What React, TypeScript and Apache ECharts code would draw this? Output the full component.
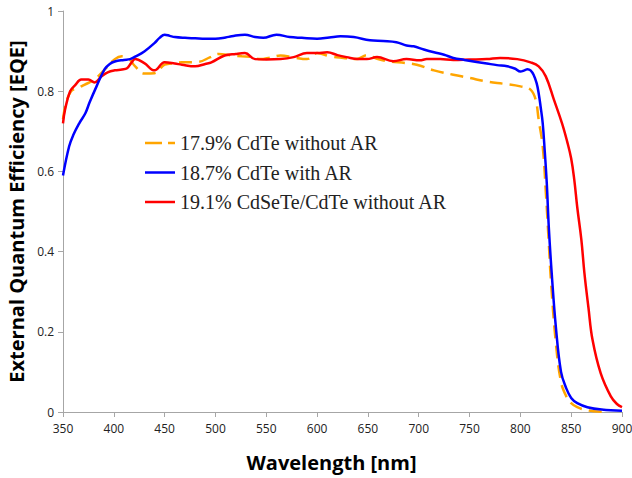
import React, { useEffect, useRef } from "react";
import * as echarts from "echarts";

const seriesNames = [
  "17.9% CdTe without AR",
  "18.7% CdTe with AR",
  "19.1% CdSeTe/CdTe without AR",
];

const xTicks = [350, 400, 450, 500, 550, 600, 650, 700, 750, 800, 850, 900];

const noArX = [350, 353, 358, 365, 371, 381, 391, 401, 408, 414, 421, 430, 440, 450, 460, 467, 483, 495, 503, 516, 526, 535, 544, 554, 564, 577, 590, 600, 613, 626, 639, 649, 659, 669, 688, 698, 715, 734, 750, 767, 785, 800, 810, 815, 818, 822, 825, 828, 830, 835, 840, 845, 850, 856, 863, 872, 885];
const noArY = [0.73, 0.77, 0.8, 0.808, 0.816, 0.829, 0.854, 0.88, 0.887, 0.883, 0.862, 0.844, 0.845, 0.866, 0.87, 0.872, 0.873, 0.885, 0.893, 0.889, 0.887, 0.886, 0.88, 0.884, 0.889, 0.884, 0.88, 0.895, 0.887, 0.883, 0.88, 0.89, 0.881, 0.875, 0.87, 0.866, 0.852, 0.841, 0.833, 0.824, 0.818, 0.812, 0.804, 0.779, 0.729, 0.662, 0.55, 0.42, 0.33, 0.17, 0.075, 0.04, 0.022, 0.012, 0.006, 0.002, 0];

const arX = [350, 356, 360, 366, 372, 376, 383, 391, 396, 401, 410, 416, 421, 430, 440, 445, 450, 455, 460, 470, 480, 490, 500, 510, 516, 529, 539, 547, 560, 573, 585, 600, 612, 623, 636, 652, 665, 678, 688, 695, 705, 715, 725, 734, 745, 757, 767, 777, 787, 795, 800, 804, 807, 810, 813, 816, 818, 820, 822, 824, 826, 828, 831, 835, 840, 845, 850, 856, 866, 880, 900];
const arY = [0.59, 0.662, 0.69, 0.72, 0.745, 0.771, 0.812, 0.855, 0.868, 0.874, 0.878, 0.88, 0.886, 0.899, 0.92, 0.933, 0.941, 0.938, 0.935, 0.933, 0.932, 0.931, 0.931, 0.934, 0.937, 0.941, 0.935, 0.933, 0.941, 0.935, 0.933, 0.931, 0.934, 0.937, 0.935, 0.927, 0.925, 0.922, 0.914, 0.912, 0.904, 0.897, 0.891, 0.883, 0.878, 0.873, 0.869, 0.865, 0.862, 0.856, 0.849, 0.852, 0.855, 0.852, 0.841, 0.82, 0.795, 0.76, 0.72, 0.65, 0.57, 0.46, 0.34, 0.21, 0.1, 0.06, 0.035, 0.022, 0.012, 0.006, 0.003];

const seX = [350, 352, 357, 362, 368, 375, 381, 388, 394, 401, 408, 413, 417, 421, 430, 440, 450, 460, 467, 480, 490, 496, 509, 520, 529, 539, 550, 564, 577, 590, 600, 610, 620, 629, 640, 649, 659, 675, 688, 701, 708, 721, 734, 750, 767, 780, 797, 810, 818, 825, 833, 841, 846, 850, 853, 856, 860, 863, 867, 871, 879, 889, 895, 900];
const seY = [0.72, 0.754, 0.8, 0.815, 0.829, 0.829, 0.822, 0.837, 0.847, 0.852, 0.854, 0.857, 0.87, 0.88, 0.87, 0.852, 0.872, 0.869, 0.866, 0.862, 0.868, 0.872, 0.889, 0.893, 0.895, 0.88, 0.879, 0.88, 0.885, 0.895, 0.895, 0.897, 0.89, 0.885, 0.88, 0.88, 0.885, 0.875, 0.88, 0.877, 0.88, 0.88, 0.878, 0.879, 0.88, 0.883, 0.88, 0.872, 0.862, 0.837, 0.779, 0.72, 0.675, 0.632, 0.58, 0.51, 0.43, 0.347, 0.26, 0.18, 0.097, 0.039, 0.02, 0.012];

const zip = (xs: number[], ys: number[]) => xs.map((x, i) => [x, ys[i]]);

const solidIcon = "path://M0,0h30v3h-30z";
const dashIcon = "path://M0,0h17v3h-17z M23,0h7v3h-7z";

export default function App() {
  const ref = useRef<HTMLDivElement>(null);
  useEffect(() => {
    if (!ref.current) return;
    const chart = echarts.init(ref.current, undefined, { renderer: "svg" });
    const axisLabel = { fontFamily: "Open Sans", fontSize: 12, color: "#222" };
    chart.setOption({
      animation: false,
      backgroundColor: "#fff",
      grid: { left: 63, right: 10, top: 11, bottom: 66, containLabel: false, outerBoundsMode: "none" },
      legend: {
        orient: "vertical",
        left: 140,
        top: 128,
        itemWidth: 30,
        itemHeight: 2.5,
        itemGap: 9.5,
        symbolKeepAspect: false,
        textStyle: { fontFamily: "Liberation Serif", fontSize: 20, color: "#222", lineHeight: 20 },
        data: [
          { name: seriesNames[0], icon: dashIcon },
          { name: seriesNames[1], icon: solidIcon },
          { name: seriesNames[2], icon: solidIcon },
        ],
      },
      xAxis: {
        type: "value",
        min: 350,
        max: 900,
        interval: 50,
        axisLine: { lineStyle: { color: "#a6a6a6", width: 1 } },
        axisTick: { show: true, length: 5, lineStyle: { color: "#a6a6a6" } },
        axisLabel: { ...axisLabel, margin: 10, customValues: xTicks },
        splitLine: { show: false },
        name: "Wavelength [nm]",
        nameLocation: "middle",
        nameGap: 40,
        nameTextStyle: { fontFamily: "Open Sans", fontWeight: "bold", fontSize: 20, color: "#000", padding: [0, 22, 0, 0] },
      },
      yAxis: {
        type: "value",
        min: 0,
        max: 1,
        interval: 0.2,
        axisLine: { show: true, lineStyle: { color: "#a6a6a6", width: 1 } },
        axisTick: { show: true, length: 5, lineStyle: { color: "#a6a6a6" } },
        axisLabel: { ...axisLabel, margin: 9 },
        splitLine: { show: false },
        name: "External Quantum Efficiency [EQE]",
        nameLocation: "middle",
        nameGap: 31,
        nameRotate: 90,
        nameTextStyle: { fontFamily: "Open Sans", fontWeight: "bold", fontSize: 20, color: "#000" },
      },
      series: [
        {
          name: seriesNames[0],
          type: "line",
          data: zip(noArX, noArY),
          showSymbol: false,
          symbol: "none",
          smooth: 0.4,
          z: 1,
          lineStyle: { color: "#FFA500", width: 2.5, type: [13, 7] },
          itemStyle: { color: "#FFA500" },
        },
        {
          name: seriesNames[1],
          type: "line",
          data: zip(arX, arY),
          showSymbol: false,
          symbol: "none",
          smooth: 0.4,
          z: 3,
          lineStyle: { color: "#0000FF", width: 2.5 },
          itemStyle: { color: "#0000FF" },
        },
        {
          name: seriesNames[2],
          type: "line",
          data: zip(seX, seY),
          showSymbol: false,
          symbol: "none",
          smooth: 0.4,
          z: 2,
          lineStyle: { color: "#FF0000", width: 2.5 },
          itemStyle: { color: "#FF0000" },
        },
      ],
    });
    return () => chart.dispose();
  }, []);
  return <div ref={ref} style={{ width: 632, height: 478, position: "absolute", left: 0, top: 0 }} />;
}
